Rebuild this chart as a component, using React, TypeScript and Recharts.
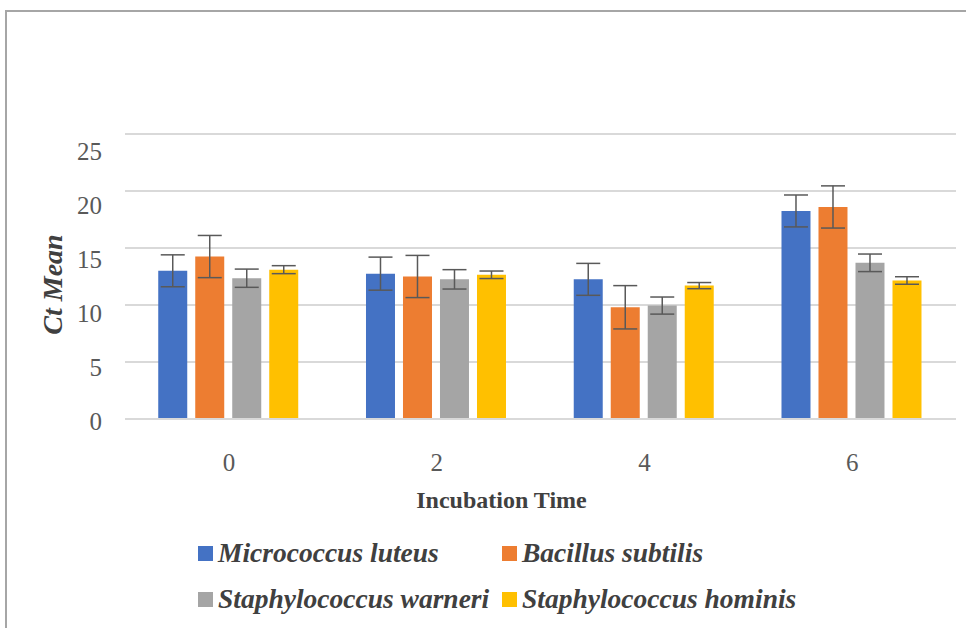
import { BarChart, Bar, XAxis, YAxis, CartesianGrid, ErrorBar, Legend } from "recharts"

const times = ["0", "2", "4", "6"]
const yTicks = [0, 5, 10, 15, 20, 25]
const seriesNames = [
  "Micrococcus luteus",
  "Bacillus subtilis",
  "Staphylococcus warneri",
  "Staphylococcus hominis",
]

const micrococcus = [13.0, 12.75, 12.25, 18.25]
const micrococcusErr = [1.4, 1.45, 1.4, 1.4]
const bacillus = [14.25, 12.5, 9.8, 18.6]
const bacillusErr = [1.85, 1.85, 1.9, 1.85]
const warneri = [12.35, 12.25, 9.95, 13.7]
const warneriErr = [0.8, 0.85, 0.75, 0.77]
const hominis = [13.1, 12.65, 11.7, 12.15]
const hominisErr = [0.35, 0.33, 0.27, 0.33]

const data = times.map((t, i) => ({
  time: t,
  ml: micrococcus[i],
  mlErr: micrococcusErr[i],
  bs: bacillus[i],
  bsErr: bacillusErr[i],
  sw: warneri[i],
  swErr: warneriErr[i],
  sh: hominis[i],
  shErr: hominisErr[i],
}))

const serif = 'Liberation Serif, Tinos, "DejaVu Serif", serif'

const YTick = ({ x, y, payload }: any) => (
  <text
    x={x}
    y={y + 11 + payload.value * 0.61}
    textAnchor="end"
    style={{ fontFamily: serif }}
    fontSize={25}
    fill="#595959"
  >
    {payload.value}
  </text>
)

const XTick = ({ x, y, payload }: any) => (
  <text x={x} y={y + 44} textAnchor="middle" style={{ fontFamily: serif }} fontSize={25} fill="#595959">
    {payload.value}
  </text>
)

const XTitle = ({ viewBox }: any) => (
  <text
    x={viewBox.x + viewBox.width / 2 - 39}
    y={viewBox.y + 89}
    textAnchor="middle"
    style={{ fontFamily: serif }}
    fontSize={24}
    fontWeight="bold"
    fill="#404040"
  >
    Incubation Time
  </text>
)

const YTitle = ({ viewBox }: any) => {
  const cx = 62
  const cy = viewBox.y + viewBox.height / 2 + 8
  return (
    <text
      x={cx}
      y={cy}
      transform={`rotate(-90, ${cx}, ${cy})`}
      textAnchor="middle"
      style={{ fontFamily: serif }}
      fontSize={28}
      fontWeight="bold"
      fontStyle="italic"
      fill="#404040"
    >
      Ct Mean
    </text>
  )
}

const renderLegend = ({ payload }: any) => {
  const items = [...(payload || [])].sort(
    (a: any, b: any) => seriesNames.indexOf(a.value) - seriesNames.indexOf(b.value)
  )
  const rows = [items.slice(0, 2), items.slice(2, 4)]
  return (
    <div style={{ paddingLeft: 198 }}>
      {rows.map((row: any[], r: number) => (
        <div key={r} style={{ display: "flex", height: 46, alignItems: "center" }}>
          {row.map((entry: any) => (
            <div key={entry.value} style={{ width: 304, display: "flex", alignItems: "center" }}>
              <span
                style={{
                  width: 15,
                  height: 15,
                  background: entry.color,
                  marginRight: 5,
                  display: "inline-block",
                }}
              />
              <span
                style={{
                  fontFamily: serif,
                  fontStyle: "italic",
                  fontWeight: "bold",
                  fontSize: 27.5,
                  color: "#404040",
                  whiteSpace: "nowrap",
                  lineHeight: "30px",
                }}
              >
                {entry.value}
              </span>
            </div>
          ))}
        </div>
      ))}
    </div>
  )
}

export default function App() {
  return (
    <div
      style={{
        position: "absolute",
        left: 0,
        top: 0,
        width: 966,
        height: 628,
        overflow: "hidden",
        background: "#ffffff",
      }}
    >
      <div
        style={{
          position: "absolute",
          left: 5,
          top: 10,
          width: 980,
          height: 640,
          borderLeft: "2px solid #a6a6a6",
          borderTop: "2px solid #a6a6a6",
        }}
      />
      <div style={{ position: "absolute", left: 0, top: 0 }}>
        <BarChart
          width={966}
          height={628}
          data={data}
          margin={{ top: 134, right: 10, left: 65, bottom: 149 }}
          barCategoryGap="16%"
          barGap={8}
        >
          <CartesianGrid vertical={false} stroke="#d9d9d9" strokeWidth={2} />
          <XAxis
            dataKey="time"
            height={60}
            axisLine={{ stroke: "#d9d9d9", strokeWidth: 2 }}
            tickLine={false}
            tick={<XTick />}
            label={<XTitle />}
          />
          <YAxis
            width={60}
            domain={[0, 25]}
            ticks={yTicks}
            axisLine={false}
            tickLine={false}
            tickSize={0}
            tickMargin={23}
            tick={<YTick />}
            label={<YTitle />}
          />
          <Legend
            layout="horizontal"
            verticalAlign="middle"
            align="center"
            content={renderLegend}
            wrapperStyle={{ top: 530, left: 0, width: 966, height: 92 }}
          />
          <Bar dataKey="ml" name={seriesNames[0]} fill="#4472C4" isAnimationActive={false}>
            <ErrorBar dataKey="mlErr" width={12} stroke="#595959" strokeWidth={1.5} />
          </Bar>
          <Bar dataKey="bs" name={seriesNames[1]} fill="#ED7D31" isAnimationActive={false}>
            <ErrorBar dataKey="bsErr" width={12} stroke="#595959" strokeWidth={1.5} />
          </Bar>
          <Bar dataKey="sw" name={seriesNames[2]} fill="#A5A5A5" isAnimationActive={false}>
            <ErrorBar dataKey="swErr" width={12} stroke="#595959" strokeWidth={1.5} />
          </Bar>
          <Bar dataKey="sh" name={seriesNames[3]} fill="#FFC000" isAnimationActive={false}>
            <ErrorBar dataKey="shErr" width={12} stroke="#595959" strokeWidth={1.5} />
          </Bar>
        </BarChart>
      </div>
    </div>
  )
}
